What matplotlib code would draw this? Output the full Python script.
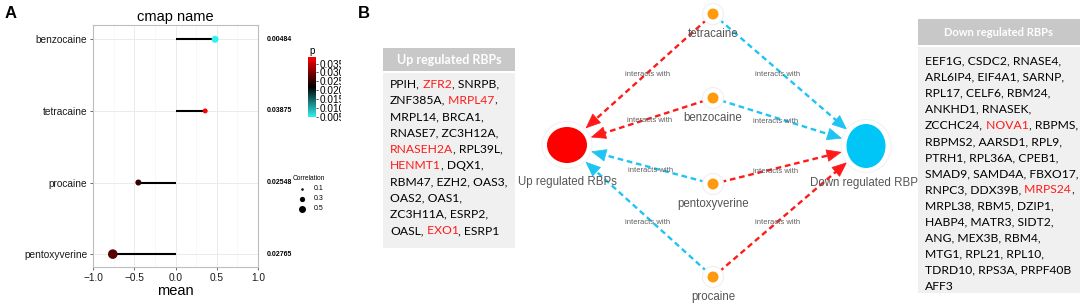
import re
import numpy as np
import matplotlib.pyplot as plt
from matplotlib.colors import LinearSegmentedColormap, Normalize
from matplotlib.cm import ScalarMappable
from matplotlib.patches import Circle, Ellipse, Rectangle
from matplotlib.transforms import blended_transform_factory

# ---- panel A data ----
drugs = ['benzocaine', 'tetracaine', 'procaine', 'pentoxyverine']
mean = [0.48, 0.36, -0.45, -0.76]
pval = [0.00484, 0.03875, 0.02548, 0.02765]
corr = [0.5, 0.27, 0.38, 0.9]
size_legend = [0.1, 0.3, 0.5]
p_ticks = [0.005, 0.010, 0.015, 0.020, 0.025, 0.030, 0.035]

# ---- panel B data ----
up_lines = ['PPIH, ZFR2, SNRPB,', 'ZNF385A, MRPL47,', 'MRPL14, BRCA1,',
            'RNASE7, ZC3H12A,', 'RNASEH2A, RPL39L,', 'HENMT1, DQX1,',
            'RBM47, EZH2, OAS3,', 'OAS2, OAS1,', 'ZC3H11A, ESRP2,',
            'OASL, EXO1, ESRP1']
down_lines = ['EEF1G, CSDC2, RNASE4,', 'ARL6IP4, EIF4A1, SARNP,',
              'RPL17, CELF6, RBM24,', 'ANKHD1, RNASEK,',
              'ZCCHC24, NOVA1, RBPMS,', 'RBPMS2, AARSD1, RPL9,',
              'PTRH1, RPL36A, CPEB1,', 'SMAD9, SAMD4A, FBXO17,',
              'RNPC3, DDX39B, MRPS24,', 'MRPL38, RBM5, DZIP1,',
              'HABP4, MATR3, SIDT2,', 'ANG, MEX3B, RBM4,',
              'MTG1, RPL21, RPL10,', 'TDRD10, RPS3A, PRPF40B', 'AFF3']
red_genes = {'ZFR2', 'MRPL47', 'RNASEH2A', 'HENMT1', 'EXO1', 'NOVA1', 'MRPS24'}

edges = [('tetracaine', 'up', 'red'), ('tetracaine', 'down', 'blue'),
         ('benzocaine', 'up', 'red'), ('benzocaine', 'down', 'blue'),
         ('pentoxyverine', 'up', 'blue'), ('pentoxyverine', 'down', 'red'),
         ('procaine', 'up', 'blue'), ('procaine', 'down', 'red')]

W, H = 1084, 307
RED = '#ff1a1a'
BLUE = '#1ec4f2'
SANS = 'Liberation Sans'


def dot_size(v):
    d = np.sqrt(np.maximum(-4.4 + 106.9 * np.asarray(v), 1.0))  # px
    return (d * 0.72) ** 2


fig = plt.figure(figsize=(W / 100, H / 100), dpi=100)

# ================= panel A =================
cmap = LinearSegmentedColormap.from_list('cbr', ['#33f0f0', '#000000', '#ff0000'])
norm = Normalize(min(pval), max(pval))

axA = fig.add_axes([93 / W, 1 - 267 / H, 165 / W, 242 / H])
ypos = np.arange(len(drugs))[::-1]
axA.hlines(ypos, 0, mean, color='black', lw=1.5, zorder=2)
axA.scatter(mean, ypos, s=dot_size(corr), c=pval, cmap=cmap, norm=norm,
            zorder=3, linewidths=0)
axA.set_xlim(-1, 1)
axA.set_ylim(-0.18, 3.2)
axA.set_xticks([-1.0, -0.5, 0.0, 0.5, 1.0])
axA.set_xticks([-0.75, -0.25, 0.25, 0.75], minor=True)
axA.set_xticklabels(['\u22121.0', '\u22120.5', '0.0', '0.5', '1.0'])
axA.set_yticks(ypos)
axA.set_yticklabels(drugs)
axA.grid(True, which='major', color='#ebebeb', lw=0.7)
axA.grid(True, which='minor', axis='x', color='#f5f5f5', lw=0.5)
axA.set_axisbelow(True)
for s in axA.spines.values():
    s.set_color('#bdbdbd')
    s.set_linewidth(0.8)
axA.tick_params(which='major', length=2.5, width=0.6, color='#555555',
                labelsize=7.3, pad=1.5)
axA.tick_params(which='minor', length=0)
for lab in axA.get_xticklabels() + axA.get_yticklabels():
    lab.set_fontfamily(SANS)
    lab.set_color('#1a1a1a')
axA.set_title('cmap name', fontsize=10.5, family=SANS, pad=3)
axA.set_xlabel('mean', fontsize=10.5, family=SANS, labelpad=1)

tr = blended_transform_factory(axA.transAxes, axA.transData)
for y, p in zip(ypos, pval):
    axA.text(1.055, y, f'{p:.5f}', transform=tr, fontsize=5, fontweight='bold',
             family=SANS, va='center', ha='left', clip_on=False)

cax = fig.add_axes([308 / W, 1 - 117 / H, 8 / W, 60 / H])
cb = fig.colorbar(ScalarMappable(norm=norm, cmap=cmap), cax=cax, ticks=p_ticks)
cb.outline.set_visible(False)
cax.tick_params(labelsize=7.2, length=1.5, width=0.5, pad=1)
for lab in cax.get_yticklabels():
    lab.set_fontfamily(SANS)
cax.set_title('p', fontsize=7, family=SANS, pad=2)
fig.patches.append(Rectangle((341 / W, 1 - 130 / H), 38 / W, 90 / H,
                             transform=fig.transFigure, fc='white', ec='none',
                             zorder=5))

fig.text(5 / W, 1 - 14 / H, 'A', fontsize=12, fontweight='bold', family=SANS,
         va='center')

# ================= panel B (pixel coordinates) =================
axB = fig.add_axes([0, 0, 1, 1], zorder=2)
axB.set_xlim(0, W)
axB.set_ylim(H, 0)
axB.axis('off')
axB.patch.set_visible(False)

axB.text(358, 13, 'B', fontsize=12, fontweight='bold', family=SANS, va='center')

# size legend
axB.text(293, 179, 'Correlation', fontsize=4.8, family=SANS, va='center')
for i, v in enumerate(size_legend):
    yy = 189 + 10 * i
    axB.scatter([302], [yy], s=dot_size([v]), color='black', linewidths=0)
    axB.text(314, yy, f'{v}', fontsize=5, family=SANS, va='center')

pos = {'tetracaine': (713, 14), 'benzocaine': (713, 98),
       'pentoxyverine': (713, 184), 'procaine': (713, 277),
       'up': (567, 145), 'down': (866, 146)}
colors = {'red': RED, 'blue': BLUE}

for drug, tgt, c in edges:
    sx, sy = pos[drug]
    tx, ty = pos[tgt]
    u = np.array([tx - sx, ty - sy], float)
    u /= np.hypot(*u)
    start = np.array([sx, sy]) + 8 * u
    tip = np.array([tx, ty]) - 25 * u
    back = tip - 8 * u
    axB.plot([start[0], back[0]], [start[1], back[1]], color=colors[c], lw=1.7,
             ls=(0, (2.4, 1.6)), solid_capstyle='butt', zorder=2)
    axB.annotate('', xy=tip, xytext=tip - 11 * u,
                 arrowprops=dict(arrowstyle='-|>,head_length=1.0,head_width=0.42',
                                 color=colors[c], lw=0.5, shrinkA=0, shrinkB=0,
                                 mutation_scale=10), zorder=3)
    mid = (np.array([sx, sy]) + tip) / 2
    axB.text(mid[0] - 2, mid[1] + 3, 'interacts with', fontsize=5.5, color='#606060',
             family=SANS, ha='center', va='center', zorder=4)

for drug in drugs:
    x, y = pos[drug]
    axB.add_patch(Circle((x, y), 10.5, fc='white', ec='#f0f0f0', lw=0.8, zorder=4))
    axB.add_patch(Circle((x, y), 5.5, fc='#ff9a0e', ec='none', zorder=5))
    axB.text(x, y + 20, drug, fontsize=8.3, color='#555555', family=SANS,
             ha='center', va='center', zorder=5)

x, y = pos['up']
axB.add_patch(Ellipse((x, y), 50, 47, fc='white', ec='#f2f2f2', lw=0.8, zorder=4))
axB.add_patch(Ellipse((x, y), 40, 36, fc='#ff0000', ec='none', zorder=5))
axB.text(x, y + 37, 'Up regulated RBPs', fontsize=8.3, color='#555555',
         family=SANS, ha='center', va='center', zorder=5)
x, y = pos['down']
axB.add_patch(Ellipse((x, y), 50, 53, fc='white', ec='#f2f2f2', lw=0.8, zorder=4))
axB.add_patch(Ellipse((x, y), 39, 44, fc='#00c6f8', ec='none', zorder=5))
axB.text(x - 2, y + 37, 'Down regulated RBP', fontsize=8.3, color='#555555',
         family=SANS, ha='center', va='center', zorder=5)


def segments(line):
    # split a line into colour runs; move trailing spaces to the next run
    pieces = re.findall(r'[A-Z0-9]+|[^A-Z0-9]+', line)
    out = []
    carry = ''
    for pc in pieces:
        col = RED if pc in red_genes else 'black'
        txt = carry + pc
        carry = ''
        if txt.endswith(' '):
            carry = ' ' * (len(txt) - len(txt.rstrip(' ')))
            txt = txt.rstrip(' ')
        if out and out[-1][1] == col:
            out[-1][0] += txt
        else:
            out.append([txt, col])
    return out


def gene_box(x0, y0, w, head_h, body_h, title, title_size, lines, tx, ty, dy):
    axB.add_patch(Rectangle((x0, y0), w, head_h, fc='#c8c8c8', ec='none', zorder=1))
    axB.add_patch(Rectangle((x0, y0 + head_h + 2), w, body_h, fc='#f0f0f0',
                            ec='none', zorder=1))
    axB.text(x0 + w / 2, y0 + head_h / 2, title, color='white', fontsize=title_size,
             fontweight='bold', family='Lato', ha='center', va='center', zorder=2)
    for i, line in enumerate(lines):
        segs = segments(line)
        prev = axB.text(tx, ty + i * dy, segs[0][0], color=segs[0][1],
                        fontsize=8.7, family='Lato', ha='left', va='center',
                        zorder=2)
        for t, c in segs[1:]:
            prev = axB.annotate(t, xy=(1, 0), xycoords=prev, color=c,
                                fontsize=8.7, family='Lato', ha='left',
                                va='bottom', zorder=2)


gene_box(383, 48, 132, 23, 175, 'Up regulated RBPs', 9, up_lines, 390, 84, 16.3)
gene_box(918, 19, 162, 26, 246, 'Down regulated RBPs', 8, down_lines, 925, 61, 16.1)

fig.savefig('out.png', dpi=100)
